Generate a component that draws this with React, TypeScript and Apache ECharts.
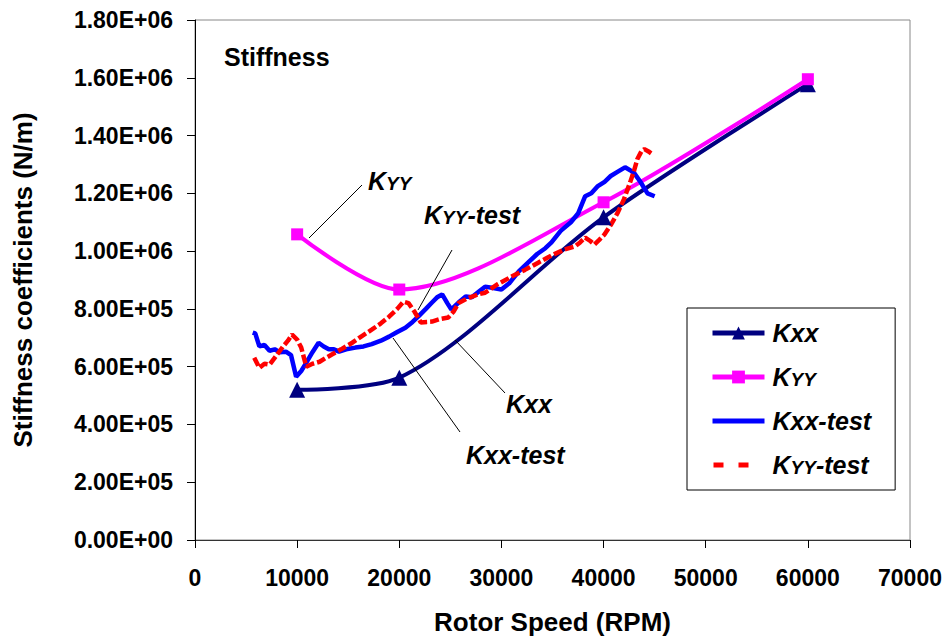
import React, { useEffect, useRef } from "react";
import * as echarts from "echarts";

const FONT = "'Liberation Sans', Arial, sans-serif";

const xTicks = [0, 10000, 20000, 30000, 40000, 50000, 60000, 70000];
const yTicks = [0, 2e5, 4e5, 6e5, 8e5, 1e6, 1.2e6, 1.4e6, 1.6e6, 1.8e6];

const kxx: [number, number][] = [
  [10000, 5.2e5], [20000, 5.62e5], [40000, 1.117e6], [60000, 1.578e6],
];
const kyy: [number, number][] = [
  [10000, 1.058e6], [20000, 8.67e5], [40000, 1.169e6], [60000, 1.595e6],
];
const kxxTest: [number, number][] = [
  [5650, 7.18e5], [5900, 7.15e5], [6300, 6.7e5], [6800, 6.75e5], [7300, 6.55e5],
  [7800, 6.6e5], [8300, 6.5e5], [8900, 6.52e5], [9400, 6.4e5], [9900, 5.65e5],
  [10400, 5.85e5], [10900, 6.14e5], [11500, 6.5e5], [12100, 6.83e5], [12600, 6.7e5],
  [13100, 6.6e5], [13600, 6.6e5], [14100, 6.52e5], [14800, 6.6e5], [15700, 6.66e5],
  [16500, 6.7e5], [17300, 6.78e5], [18200, 6.9e5], [19000, 7.04e5], [19800, 7.2e5],
  [20600, 7.35e5], [21300, 7.55e5], [21900, 7.75e5], [22600, 8.0e5], [23200, 8.22e5],
  [23700, 8.4e5], [24200, 8.5e5], [24700, 8.2e5], [25100, 7.98e5], [25800, 8.22e5],
  [26500, 8.43e5], [27100, 8.4e5], [27800, 8.6e5], [28400, 8.77e5], [29200, 8.72e5],
  [30000, 8.67e5], [30800, 8.9e5], [31700, 9.3e5], [32600, 9.6e5], [33500, 9.9e5],
  [34300, 1.01e6], [34900, 1.03e6], [35800, 1.07e6], [36800, 1.1e6], [37500, 1.13e6],
  [38200, 1.19e6], [38800, 1.2e6], [39400, 1.224e6], [40100, 1.24e6], [40700, 1.26e6],
  [41400, 1.275e6], [42100, 1.29e6], [42600, 1.28e6], [43000, 1.27e6], [43600, 1.24e6],
  [44300, 1.2e6], [45000, 1.19e6],
];
const kyyTest: [number, number][] = [
  [5800, 6.31e5], [6300, 5.96e5], [6800, 6.1e5], [7300, 6.07e5], [7900, 6.35e5],
  [8600, 6.69e5], [9100, 6.9e5], [9500, 7.11e5], [10000, 6.94e5], [10400, 6.66e5],
  [10900, 6.0e5], [11500, 6.1e5], [12200, 6.17e5], [12800, 6.3e5], [13400, 6.42e5],
  [14300, 6.6e5], [15400, 6.83e5], [16300, 7.05e5], [17300, 7.28e5], [18200, 7.5e5],
  [19000, 7.73e5], [19800, 8.0e5], [20400, 8.25e5], [20900, 8.2e5], [21500, 7.9e5],
  [22100, 7.53e5], [22700, 7.55e5], [23200, 7.56e5], [24000, 7.65e5], [24800, 7.7e5],
  [25300, 7.9e5], [25800, 8.2e5], [26600, 8.35e5], [27700, 8.5e5], [28400, 8.56e5],
  [29600, 8.85e5], [31000, 9.12e5], [32300, 9.35e5], [33600, 9.6e5], [34900, 9.85e5],
  [36200, 1.006e6], [37200, 1.016e6], [37700, 1.03e6], [38200, 1.047e6], [38700, 1.035e6],
  [39100, 1.023e6], [39600, 1.04e6], [40100, 1.058e6], [40700, 1.09e6], [41400, 1.134e6],
  [42000, 1.18e6], [42600, 1.238e6], [43000, 1.28e6], [43300, 1.318e6], [43700, 1.345e6],
  [44000, 1.353e6], [44400, 1.345e6], [44800, 1.335e6],
];

// legend icon for the dashed test series: two short dashes (bbox padded to 52x16)
const DASH_ICON =
  "path://M0,0h0.01v0.01h-0.01z M51.99,15.99h0.01v0.01h-0.01z M1,5.5h10v5h-10z M26,5.5h10v5h-10z";

const richBI = {
  b: { fontFamily: FONT, fontSize: 25, fontWeight: "bold", fontStyle: "italic", color: "#000", lineHeight: 30 },
  s: { fontFamily: FONT, fontSize: 19, fontWeight: "bold", fontStyle: "italic", color: "#000", lineHeight: 30, padding: [4, 0, 0, 0] },
};

function fmtName(n: string): string {
  if (n === "KYY") return "{b|K}{s|YY}";
  if (n === "KYY-test") return "{b|K}{s|YY}{b|-test}";
  return "{b|" + n + "}";
}

function annText(x: number, y: number, name: string) {
  return {
    type: "text",
    x,
    y,
    z: 100,
    style: { text: fmtName(name), rich: richBI, verticalAlign: "middle", align: "left" },
  };
}

function leader(x1: number, y1: number, x2: number, y2: number) {
  return {
    type: "line",
    z: 100,
    shape: { x1, y1, x2, y2 },
    style: { stroke: "#000", lineWidth: 1 },
  };
}

export default function App() {
  const ref = useRef<HTMLDivElement>(null);
  useEffect(() => {
    if (!ref.current) return;
    const chart = echarts.init(ref.current, null, { renderer: "svg" });
    const sx = (v: number) => (v === 0 ? "0.00E+00" : v.toExponential(2).toUpperCase().replace(/E\+(\d)$/, "E+0$1"));
    chart.setOption({
      animation: false,
      backgroundColor: "#fff",
      grid: { left: 195, right: 41, top: 20, bottom: 100, show: true, borderColor: "#888", borderWidth: 1 },
      xAxis: {
        type: "value",
        min: xTicks[0],
        max: xTicks[xTicks.length - 1],
        interval: 10000,
        name: "Rotor Speed (RPM)",
        nameLocation: "middle",
        nameGap: 69,
        nameTextStyle: { fontFamily: FONT, fontSize: 26, fontWeight: "bold", color: "#000" },
        axisLine: { show: true, onZero: false, lineStyle: { color: "#333", width: 1 } },
        axisTick: { show: true, inside: false, length: 8, lineStyle: { color: "#000" } },
        splitLine: { show: false },
        axisLabel: { margin: 26, fontFamily: FONT, fontSize: 23, fontWeight: "bold", color: "#000", formatter: (v: number) => String(v) },
      },
      yAxis: {
        type: "value",
        min: yTicks[0],
        max: yTicks[yTicks.length - 1],
        interval: 2e5,
        name: "Stiffness coefficients (N/m)",
        nameLocation: "middle",
        nameGap: 159,
        nameTextStyle: { fontFamily: FONT, fontSize: 26, fontWeight: "bold", color: "#000" },
        axisLine: { show: true, onZero: false, lineStyle: { color: "#000", width: 1 } },
        axisTick: { show: true, inside: false, length: 8, lineStyle: { color: "#000" } },
        splitLine: { show: false },
        axisLabel: { margin: 22, fontFamily: FONT, fontSize: 23, fontWeight: "bold", color: "#000", formatter: sx },
      },
      legend: {
        left: 687,
        top: 308,
        orient: "vertical",
        padding: [10, 24, 10, 23],
        itemGap: 14,
        itemWidth: 52,
        itemHeight: 16,
        borderColor: "#000",
        borderWidth: 1,
        backgroundColor: "#fff",
        lineStyle: { width: 5 },
        data: [
          { name: "Kxx" },
          { name: "KYY" },
          { name: "Kxx-test", itemStyle: { opacity: 0 } },
          { name: "KYY-test", icon: DASH_ICON },
        ],
        formatter: fmtName,
        textStyle: { rich: richBI, fontSize: 25, lineHeight: 30, padding: [0, 0, 0, 3] },
      },
      series: [
        {
          name: "Kxx",
          type: "line",
          data: kxx,
          smooth: 0.3,
          symbol: "triangle",
          symbolSize: 16,
          itemStyle: { color: "#000080" },
          lineStyle: { color: "#000080", width: 4 },
        },
        {
          name: "KYY",
          type: "line",
          data: kyy,
          smooth: 0.3,
          symbol: "rect",
          symbolSize: 12,
          itemStyle: { color: "#FF00FF" },
          lineStyle: { color: "#FF00FF", width: 4 },
        },
        {
          name: "Kxx-test",
          type: "line",
          data: kxxTest,
          showSymbol: false,
          symbol: "none",
          itemStyle: { color: "#0000FF" },
          lineStyle: { color: "#0000FF", width: 4.5 },
        },
        {
          name: "KYY-test",
          type: "line",
          data: kyyTest,
          showSymbol: false,
          symbol: "none",
          itemStyle: { color: "#FF0000" },
          lineStyle: { color: "#FF0000", width: 4.5, type: [9, 3] },
        },
      ],
      graphic: [
        {
          type: "text",
          left: 224,
          top: 44,
          z: 100,
          style: { text: "Stiffness", fontFamily: FONT, fontSize: 25, fontWeight: "bold", fill: "#000" },
        },
        annText(368, 181, "KYY"),
        annText(424, 215, "KYY-test"),
        annText(506, 404, "Kxx"),
        annText(466, 455, "Kxx-test"),
        leader(309, 238, 362, 185),
        leader(452, 250, 418, 310),
        leader(455, 340, 505, 393),
        leader(393, 338, 460, 432),
      ],
    });
    return () => chart.dispose();
  }, []);
  return <div ref={ref} style={{ position: "absolute", left: 0, top: 0, width: 951, height: 640 }} />;
}
